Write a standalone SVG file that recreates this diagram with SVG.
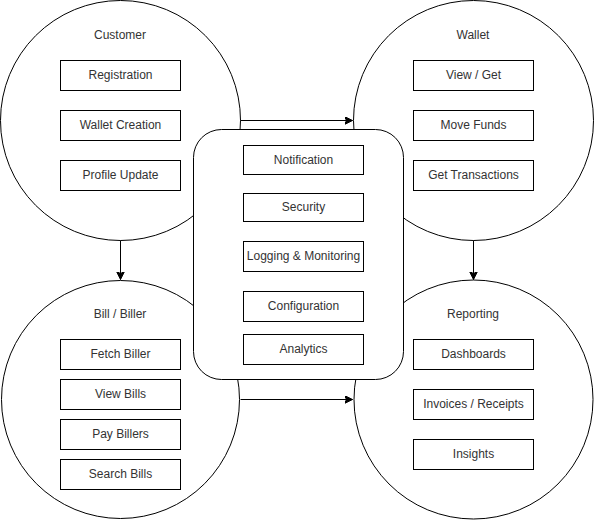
<svg xmlns="http://www.w3.org/2000/svg" width="594" height="520" viewBox="0 0 594 520">
<style>
.c{fill:#fff;stroke:#000;stroke-width:1}
.b{fill:#fff;stroke:#000;stroke-width:1}
.t{font-family:"Liberation Sans",Arial,sans-serif;font-size:12px;fill:#333;text-anchor:middle;dominant-baseline:central}
.l{fill:none;stroke:#000;stroke-width:1}
</style>
<defs>
<marker id="ar" markerWidth="10" markerHeight="10" refX="8" refY="4" orient="auto" markerUnits="userSpaceOnUse">
<path d="M0,0 L8,4 L0,8 L2,4 Z" fill="#000" stroke="#000" stroke-width="1"/>
</marker>
</defs>
<g id="customer">
<circle class="c" cx="120.5" cy="120.5" r="120"/>
<text class="t" x="120" y="35">Customer</text>
<rect class="b" x="60.5" y="60.5" width="120" height="30"/><text class="t" x="120.5" y="75">Registration</text>
<rect class="b" x="60.5" y="110.5" width="120" height="30"/><text class="t" x="120.5" y="125">Wallet Creation</text>
<rect class="b" x="60.5" y="160.5" width="120" height="30"/><text class="t" x="120.5" y="175">Profile Update</text>
</g>
<g id="wallet">
<circle class="c" cx="473.5" cy="120.5" r="120"/>
<text class="t" x="473" y="35">Wallet</text>
<rect class="b" x="413.5" y="60.5" width="120" height="30"/><text class="t" x="473.5" y="75">View / Get</text>
<rect class="b" x="413.5" y="110.5" width="120" height="30"/><text class="t" x="473.5" y="125">Move Funds</text>
<rect class="b" x="413.5" y="160.5" width="120" height="30"/><text class="t" x="473.5" y="175">Get Transactions</text>
</g>
<g id="bill">
<circle class="c" cx="120.5" cy="399.5" r="119"/>
<text class="t" x="120" y="314">Bill / Biller</text>
<rect class="b" x="60.5" y="339.5" width="120" height="30"/><text class="t" x="120.5" y="354">Fetch Biller</text>
<rect class="b" x="60.5" y="379.5" width="120" height="30"/><text class="t" x="120.5" y="394">View Bills</text>
<rect class="b" x="60.5" y="419.5" width="120" height="30"/><text class="t" x="120.5" y="434">Pay Billers</text>
<rect class="b" x="60.5" y="459.5" width="120" height="30"/><text class="t" x="120.5" y="474">Search Bills</text>
</g>
<g id="reporting">
<circle class="c" cx="473.5" cy="399.5" r="119.5"/>
<text class="t" x="473" y="314">Reporting</text>
<rect class="b" x="413.5" y="339.5" width="120" height="30"/><text class="t" x="473.5" y="354">Dashboards</text>
<rect class="b" x="413.5" y="389.5" width="120" height="30"/><text class="t" x="473.5" y="404">Invoices / Receipts</text>
<rect class="b" x="413.5" y="439.5" width="120" height="30"/><text class="t" x="473.5" y="454">Insights</text>
</g>
<g id="core">
<rect class="b" x="193.5" y="129.5" width="210" height="250" rx="28" ry="28"/>
<rect class="b" x="243.5" y="145.5" width="120" height="29"/><text class="t" x="303.5" y="160">Notification</text>
<rect class="b" x="243.5" y="193.5" width="120" height="28"/><text class="t" x="303.5" y="207">Security</text>
<rect class="b" x="243.5" y="241.5" width="120" height="30"/><text class="t" x="303.5" y="256">Logging &amp; Monitoring</text>
<rect class="b" x="243.5" y="291.5" width="120" height="30"/><text class="t" x="303.5" y="306">Configuration</text>
<rect class="b" x="243.5" y="334.5" width="120" height="30"/><text class="t" x="303.5" y="349">Analytics</text>
</g>
<g id="connectors">
<path class="l" d="M240.5,120.5 L352.5,120.5" marker-end="url(#ar)"/>
<path class="l" d="M120.5,240.5 L120.5,279.5" marker-end="url(#ar)"/>
<path class="l" d="M473.5,240.5 L473.5,279.5" marker-end="url(#ar)"/>
<path class="l" d="M240.5,399.5 L352.5,399.5" marker-end="url(#ar)"/>
</g>
</svg>
